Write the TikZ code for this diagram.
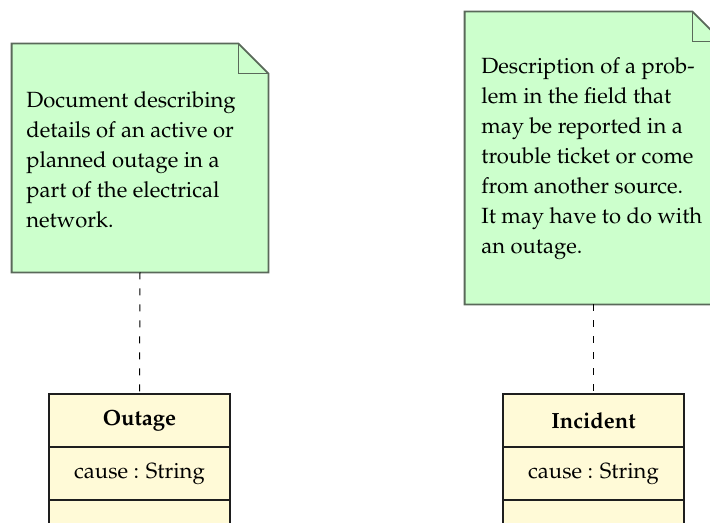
\documentclass[tikz,border=0pt]{standalone}
\usepackage[T1]{fontenc}
\usepackage{mathpazo}
\definecolor{notefill}{RGB}{204,255,204}
\definecolor{noteline}{RGB}{90,105,90}
\definecolor{classfill}{RGB}{255,250,215}
\definecolor{classline}{RGB}{30,30,30}
\tikzset{
  notebox/.style={draw=none, fill=none, inner sep=0pt, minimum width=#1},
  noteoutline/.style={draw=noteline, fill=notefill, line width=0.9pt, line join=miter},
  notetext/.style={anchor=north west, inner sep=0pt, align=left, font=\fontsize{11}{15}\selectfont},
  classpart/.style={draw=classline, fill=classfill, line width=0.6pt, minimum width=90.5pt, minimum height=26.5pt, inner sep=0pt, font=\fontsize{11}{15}\selectfont},
  anchorline/.style={draw=black, line width=0.5pt, dash pattern=on 3.5pt off 4.5pt}
}
\begin{document}
\begin{tikzpicture}[x=0.5pt, y=-0.5pt]
\useasboundingbox (0,0) rectangle (710,523);
\clip (0,0) rectangle (710,523);
% left note
\node[notebox=128pt, minimum height=114pt] (n1) at (140,158) {};
\path[noteoutline] (n1.north west) -- ([xshift=-15pt]n1.north east) -- ([yshift=-15pt]n1.north east) -- (n1.south east) -- (n1.south west) -- cycle;
\draw[draw=noteline, line width=0.9pt] ([xshift=-15pt]n1.north east) -- ([xshift=-15pt, yshift=-15pt]n1.north east) -- ([yshift=-15pt]n1.north east);
\node[notetext] (t1) at (26,91) {Document describing\\details of an active or\\planned outage in a\\part of the electrical\\network.};
% right note
\node[notebox=128.5pt, minimum height=146pt] (n2) at (593.5,158) {};
\path[noteoutline] (n2.north west) -- ([xshift=-15pt]n2.north east) -- ([yshift=-15pt]n2.north east) -- (n2.south east) -- (n2.south west) -- cycle;
\draw[draw=noteline, line width=0.9pt] ([xshift=-15pt]n2.north east) -- ([xshift=-15pt, yshift=-15pt]n2.north east) -- ([yshift=-15pt]n2.north east);
\node[notetext] (t2) at (481,57) {Description of a prob-\\lem in the field that\\may be reported in a\\trouble ticket or come\\from another source.\\It may have to do with\\an outage.};
% Outage class
\node[classpart, font=\fontsize{11}{15}\selectfont\bfseries] (o1) at (139.5,420.5) {Outage};
\node[classpart] (o2) at (139.5,473.5) {cause : String};
\node[classpart] (o3) at (139.5,526.5) {};
% Incident class
\node[classpart, font=\fontsize{11}{15}\selectfont\bfseries] (i1) at (593.5,420.5) {Incident};
\node[classpart] (i2) at (593.5,473.5) {cause : String};
\node[classpart] (i3) at (593.5,526.5) {};
% anchors
\draw[anchorline] (n1.south) -- (o1.north);
\draw[anchorline] (n2.south) -- (i1.north);
\end{tikzpicture}
\end{document}
